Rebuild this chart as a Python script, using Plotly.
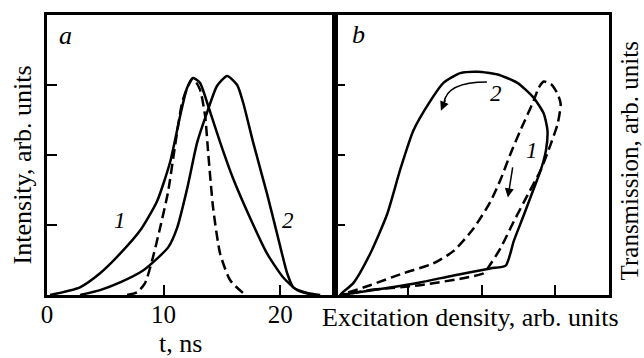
import plotly.graph_objects as go

# Panel a: time traces
t1 = [0.26, 2.83, 4.55, 6.27, 7.98, 9.44, 10.56, 11.42, 12.02, 12.53, 13.13, 13.73, 14.85, 15.97, 17.42, 18.88, 20.26, 21.46, 22.83]
i1 = [0, 0.11, 0.31, 0.59, 0.92, 1.34, 1.90, 2.56, 2.96, 3.10, 3.03, 2.75, 2.18, 1.66, 1.10, 0.59, 0.25, 0.07, 0]
t2 = [2.83, 4.55, 6.27, 8.24, 9.44, 10.39, 11.16, 12.02, 12.88, 13.73, 14.59, 15.45, 16.31, 16.82, 17.68, 18.88, 19.74, 20.60, 21.12, 22.32, 23.43]
i2 = [0, 0.07, 0.18, 0.35, 0.52, 0.68, 0.96, 1.52, 2.18, 2.61, 2.99, 3.13, 3.0, 2.75, 2.18, 1.44, 0.87, 0.31, 0.11, 0.03, 0]
td = [6.87, 7.73, 8.41, 9.01, 9.70, 10.39, 10.99, 11.59, 12.10, 12.53, 13.13, 13.56, 13.82, 14.25, 14.85, 15.71, 17.0]
idash = [0, 0.04, 0.17, 0.49, 0.96, 1.48, 2.14, 2.75, 2.99, 3.1, 2.93, 2.56, 2.04, 1.24, 0.59, 0.21, 0]

# Panel b: hysteresis loops
bx_solid = [0.07, 0.25, 0.71, 1.16, 1.62, 2.12, 2.33, 2.44, 2.58, 2.71, 2.81, 2.88, 2.90, 2.85, 2.71, 2.49, 2.22, 1.95, 1.71, 1.48, 1.30, 1.07, 0.89, 0.71, 0.48, 0.25, 0.07]
by_solid = [0, 0.03, 0.10, 0.18, 0.28, 0.38, 0.42, 0.77, 1.15, 1.51, 1.79, 2.07, 2.35, 2.59, 2.82, 3.03, 3.15, 3.19, 3.17, 3.03, 2.77, 2.35, 1.79, 1.15, 0.59, 0.17, 0]
bx_dash = [0.07, 0.48, 1.16, 1.75, 2.03, 2.09, 2.26, 2.44, 2.63, 2.81, 2.95, 3.04, 3.08, 3.04, 2.95, 2.85, 2.78, 2.71, 2.53, 2.40, 2.26, 2.12, 1.89, 1.62, 1.34, 0.93, 0.48, 0.16, 0.07]
by_dash = [0, 0.07, 0.14, 0.24, 0.31, 0.39, 0.67, 1.05, 1.43, 1.79, 2.17, 2.45, 2.73, 2.87, 3.01, 3.05, 2.96, 2.77, 2.35, 2.03, 1.65, 1.33, 0.95, 0.63, 0.45, 0.31, 0.14, 0.03, 0]

FONT = "Liberation Serif"
LW = 2.5
DASH = "10px,5px"

fig = go.Figure()
fig.add_trace(go.Scatter(x=t1, y=i1, mode="lines", line=dict(color="black", width=LW, shape="spline", smoothing=0.6), xaxis="x", yaxis="y"))
fig.add_trace(go.Scatter(x=t2, y=i2, mode="lines", line=dict(color="black", width=LW, shape="spline", smoothing=0.6), xaxis="x", yaxis="y"))
fig.add_trace(go.Scatter(x=td, y=idash, mode="lines", line=dict(color="black", width=LW, dash=DASH, shape="spline", smoothing=0.6), xaxis="x", yaxis="y"))
fig.add_trace(go.Scatter(x=bx_solid, y=by_solid, mode="lines", line=dict(color="black", width=LW, shape="spline", smoothing=0.6), xaxis="x2", yaxis="y2"))
fig.add_trace(go.Scatter(x=bx_dash, y=by_dash, mode="lines", line=dict(color="black", width=LW, dash=DASH, shape="spline", smoothing=0.6), xaxis="x2", yaxis="y2"))

split = 288 / 562
axcommon = dict(showline=True, linecolor="black", linewidth=2.5, mirror=True, ticks="inside",
                ticklen=10, tickwidth=2, tickcolor="black", showgrid=False, zeroline=False,
                tickfont=dict(family=FONT, size=25, color="black"))

fig.update_layout(
    width=644, height=358,
    margin=dict(l=47, r=35, t=12, b=63),
    paper_bgcolor="white", plot_bgcolor="white",
    showlegend=False,
    xaxis=dict(domain=[0, split], range=[0, 24.7], tickvals=[0, 10, 20], anchor="y", ticklabelstandoff=-5, **axcommon),
    yaxis=dict(domain=[0, 1], range=[0, 4], tickvals=[1, 2, 3], showticklabels=False, anchor="x", **axcommon),
    xaxis2=dict(domain=[split, 1], range=[0, 3.74], tickvals=[1, 2, 3], showticklabels=False, anchor="y2", **axcommon),
    yaxis2=dict(domain=[0, 1], range=[0, 4], tickvals=[1, 2, 3], showticklabels=False, anchor="x2", **axcommon),
)

tf = dict(family=FONT, size=26, color="black")
tr = dict(family=FONT, size=25, color="black")
lab = dict(family=FONT, size=26, color="black")
num = dict(family=FONT, size=23, color="black")


def px(xp):
    return (xp - 47) / 562


def py(yp):
    return (295 - yp) / 283


annotations = [
    dict(text="t, ns", xref="paper", yref="paper", x=px(180), y=py(344), showarrow=False, font=tf, xanchor="center", yanchor="middle"),
    dict(text="Excitation density, arb. units", xref="paper", yref="paper", x=px(470), y=py(318), showarrow=False, font=tf, xanchor="center", yanchor="middle"),
    dict(text="Intensity, arb. units", xref="paper", yref="paper", x=px(22), y=py(164), showarrow=False, font=tf, textangle=-90, xanchor="center", yanchor="middle"),
    dict(text="Transmission, arb. units", xref="paper", yref="paper", x=px(629), y=py(160), showarrow=False, font=tr, textangle=-90, xanchor="center", yanchor="middle"),
    dict(text="<i>a</i>", xref="paper", yref="paper", x=px(65), y=py(33), showarrow=False, font=lab, xanchor="center", yanchor="middle"),
    dict(text="<i>b</i>", xref="paper", yref="paper", x=px(358), y=py(32), showarrow=False, font=lab, xanchor="center", yanchor="middle"),
    dict(text="<i>1</i>", xref="x", yref="y", x=(120 - 47) / 11.65, y=(295 - 219) / 71, showarrow=False, font=num),
    dict(text="<i>2</i>", xref="x", yref="y", x=(288 - 47) / 11.65, y=(295 - 219) / 71, showarrow=False, font=num),
    dict(text="<i>2</i>", xref="x2", yref="y2", x=(496 - 335) / 73.3, y=(295 - 91) / 71, showarrow=False, font=num),
    dict(text="<i>1</i>", xref="x2", yref="y2", x=(532 - 335) / 73.3, y=(295 - 148) / 71, showarrow=False, font=num),
    # straight arrow
    dict(text="", xref="x2", yref="y2", axref="x2", ayref="y2", x=(508 - 335) / 73.3, y=(295 - 196) / 71,
         ax=(513 - 335) / 73.3, ay=(295 - 164) / 71, showarrow=True, arrowhead=2, arrowsize=1.2, arrowwidth=1.5, arrowcolor="black"),
    # head of curved arrow
    dict(text="", xref="x2", yref="y2", axref="x2", ayref="y2", x=(441 - 335) / 73.3, y=(295 - 108) / 71,
         ax=(446 - 335) / 73.3, ay=(295 - 96) / 71, showarrow=True, arrowhead=2, arrowsize=1.2, arrowwidth=1.5, arrowcolor="black"),
]
fig.update_layout(annotations=annotations)

# curved arrow shaft
x0, y0 = (487 - 335) / 73.3, (295 - 79) / 71
cx, cy = (447 - 335) / 73.3, (295 - 79) / 71
x1, y1 = (444 - 335) / 73.3, (295 - 100) / 71
fig.add_shape(type="path", xref="x2", yref="y2", path=f"M {x0},{y0} Q {cx},{cy} {x1},{y1}",
              line=dict(color="black", width=1.5))

fig.write_html("out.html")
